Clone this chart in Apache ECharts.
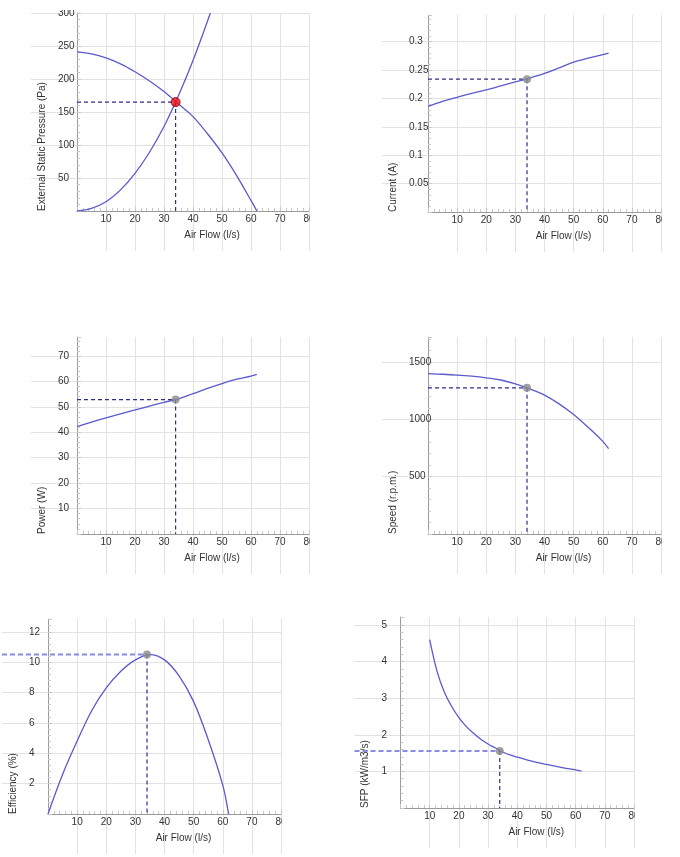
<!DOCTYPE html>
<html>
<head>
<meta charset="utf-8">
<title>Fan performance curves</title>
<script src="https://cdn.jsdelivr.net/npm/echarts@6/dist/echarts.min.js"></script>
<style>
  html, body { margin: 0; padding: 0; background: #fff; }
  body { position: relative; width: 680px; height: 857px; overflow: hidden; }
  .panel { position: absolute; }
</style>
</head>
<body>
<div id="pressure" class="panel" style="left:0;top:10px;width:310px;height:250px"></div>
<div id="current" class="panel" style="left:340px;top:0;width:322px;height:260px"></div>
<div id="power" class="panel" style="left:0;top:320px;width:310px;height:260px"></div>
<div id="speed" class="panel" style="left:340px;top:320px;width:322px;height:260px"></div>
<div id="efficiency" class="panel" style="left:0;top:600px;width:282px;height:257px"></div>
<div id="sfp" class="panel" style="left:340px;top:600px;width:295px;height:257px"></div>
<script>
// air flow (l/s) where the fan curves were read
const flow = [0, 5, 10, 15, 20, 25, 30, 35, 40, 45, 50, 55, 60, 62];
const fanPressure = [241, 238, 232, 223, 211, 197, 181, 162, 143, 117, 88, 54, 16, 0];
const current = [0.186, 0.195, 0.202, 0.209, 0.215, 0.222, 0.229, 0.236, 0.244, 0.254, 0.264, 0.271, 0.277, 0.280];
const power = [42.2, 44.0, 45.7, 47.3, 48.8, 50.3, 51.8, 53.2, 55.2, 57.3, 59.2, 60.9, 62.1, 62.8];
const speed = [1398, 1393, 1386, 1376, 1362, 1343, 1310, 1265, 1211, 1135, 1042, 930, 808, 745];
const efficiency = [0, 2.6, 4.8, 6.8, 8.3, 9.4, 10.15, 10.5, 10.15, 9.1, 7.4, 4.9, 1.9, 0];

// system curve
const systemFlow = [0, 5, 10, 15, 20, 25, 30, 35, 40, 46];
const systemPressure = [0, 4, 14, 32, 57, 89, 128, 175, 228, 300];

// specific fan power
const sfpFlow = [10, 12.5, 15, 17.5, 20, 22.5, 25, 27.5, 30, 32.5, 35, 37.5, 40, 45, 50, 55, 60, 62];
const sfp = [4.6, 3.74, 3.17, 2.78, 2.47, 2.23, 2.04, 1.88, 1.75, 1.64, 1.53, 1.45, 1.39, 1.28, 1.19, 1.11, 1.04, 1.01];

// duty point
const dutyFlow = 34;
const dutyPressure = 165;
const dutyCurrent = 0.234;
const dutyPower = 52.9;
const dutySpeed = 1275;
const dutyEfficiency = 10.5;
const dutySfp = 1.56;

const FONT = '"Liberation Sans", Arial, sans-serif';
const GRID = '#e2e2e2';
const AXIS = '#9a9a9a';
const TICK = '#c8c8c8';
const CURVE = '#5a5acd';
const DARK_DASH = '#2e2e8e';
const LIGHT_DASH = '#8a8ae6';
const OVERHANG = 46; // grid lines reach this far left of the y axis

const zip = (xs, ys) => xs.map((x, i) => [x, ys[i]]);
const txt = { fontFamily: FONT, fontSize: 10, color: '#333' };

function buildOption(p, width) {
  // flow value at the left end of the overhanging grid (same scale as the plot)
  const plotWidth = width - p.left - p.right;
  const edgeFlow = -OVERHANG * 80 / plotWidth;

  const curves = p.curves.map(data => ({
    type: 'line', xAxisIndex: 2, yAxisIndex: 2, data, smooth: 0.35,
    showSymbol: false, silent: true, z: 3,
    lineStyle: { color: CURVE, width: 1.3 }
  }));
  const light = p.lightDash;
  return {
    animation: false,
    grid: [
      // vertical grid lines run on below the axis
      { left: p.left, right: p.right, top: p.top, bottom: p.bottom - 40, outerBoundsMode: 'none' },
      // horizontal grid lines run on left of the axis
      { left: p.left - OVERHANG, right: p.right, top: p.top, bottom: p.bottom, outerBoundsMode: 'none' },
      { left: p.left, right: p.right, top: p.top, bottom: p.bottom, outerBoundsMode: 'none' }
    ],
    xAxis: [
      {
        gridIndex: 0, type: 'value', min: 0, max: 80, interval: 10,
        axisLine: { show: false }, axisTick: { show: false }, axisLabel: { show: false },
        splitLine: { show: true, showMinLine: false, lineStyle: { color: GRID } }
      },
      { gridIndex: 1, type: 'value', min: edgeFlow, max: 80, show: false },
      {
        gridIndex: 2, type: 'value', min: 0, max: 80, interval: 10,
        name: 'Air Flow (l/s)', nameLocation: 'middle', nameGap: 19,
        nameTextStyle: Object.assign({}, txt, { padding: [0, 0, 0, 38] }),
        axisLine: { lineStyle: { color: AXIS } },
        axisTick: { inside: true, length: 4, lineStyle: { color: TICK } },
        minorTick: { show: true, splitNumber: 5, length: 3, lineStyle: { color: TICK } },
        axisLabel: Object.assign({}, txt, { margin: 3, showMinLabel: false }),
        splitLine: { show: false }
      }
    ],
    yAxis: [
      { gridIndex: 0, type: 'value', min: 0, max: p.yMax, show: false },
      {
        gridIndex: 1, type: 'value', min: 0, max: p.yMax, interval: p.yStep,
        axisLine: { show: false }, axisTick: { show: false }, axisLabel: { show: false },
        splitLine: { show: true, showMinLine: false, showMaxLine: p.topLine, lineStyle: { color: GRID } }
      },
      {
        gridIndex: 2, type: 'value', min: 0, max: p.yMax, interval: p.yStep,
        name: p.yName, nameLocation: 'start', nameGap: 0, nameRotate: 90, nameMoveOverlap: false,
        nameTextStyle: Object.assign({}, txt, { align: 'left', verticalAlign: 'bottom', padding: [0, 0, 30, 0] }),
        axisLine: { lineStyle: { color: AXIS } },
        axisTick: { inside: true, length: 4, lineStyle: { color: TICK } },
        minorTick: { show: true, splitNumber: 5, length: 3, lineStyle: { color: TICK } },
        axisLabel: Object.assign({}, txt, {
          margin: 19, align: 'left', showMinLabel: false, showMaxLabel: p.topLine,
          formatter: v => String(+v.toFixed(4))
        }),
        splitLine: { show: false }
      }
    ],
    series: curves.concat([
      // horizontal guide; the light ones run out past the y axis like the grid
      light ? {
        type: 'line', xAxisIndex: 1, yAxisIndex: 1, silent: true, showSymbol: false, z: 2,
        data: [[edgeFlow, p.dutyY], [dutyFlow, p.dutyY]],
        lineStyle: { color: LIGHT_DASH, width: 2, type: [5, 3] }
      } : {
        type: 'line', xAxisIndex: 2, yAxisIndex: 2, silent: true, showSymbol: false, z: 2,
        data: [[0, p.dutyY], [dutyFlow, p.dutyY]],
        lineStyle: { color: DARK_DASH, width: 1.2, type: [4, 3] }
      },
      {
        type: 'line', xAxisIndex: 2, yAxisIndex: 2, silent: true, showSymbol: false, z: 2,
        data: [[dutyFlow, p.dutyY], [dutyFlow, 0]],
        lineStyle: { color: DARK_DASH, width: 1.2, type: [4, 3] }
      },
      {
        type: 'scatter', xAxisIndex: 2, yAxisIndex: 2, silent: true, z: 5,
        data: [[dutyFlow, p.dutyY]],
        symbolSize: p.red ? 9 : 8,
        itemStyle: p.red
          ? { color: '#ee1111', borderColor: '#8a0000', borderWidth: 1 }
          : { color: '#8a8a8a' }
      }
    ])
  };
}

const panels = [
  { id: 'pressure', left: 77, right: 1, top: 3, bottom: 49, yMax: 300, yStep: 50, topLine: true,
    yName: 'External Static Pressure (Pa)', dutyY: dutyPressure, red: true,
    curves: [zip(flow, fanPressure), zip(systemFlow, systemPressure)] },
  { id: 'current', left: 88, right: 1, top: 15, bottom: 48, yMax: 0.347, yStep: 0.05, topLine: false,
    yName: 'Current (A)', dutyY: dutyCurrent, curves: [zip(flow, current)] },
  { id: 'power', left: 77, right: 1, top: 17, bottom: 46, yMax: 77.5, yStep: 10, topLine: false,
    yName: 'Power (W)', dutyY: dutyPower, curves: [zip(flow, power)] },
  { id: 'speed', left: 88, right: 1, top: 17, bottom: 46, yMax: 1718, yStep: 500, topLine: false,
    yName: 'Speed (r.p.m.)', dutyY: dutySpeed, curves: [zip(flow, speed)] },
  { id: 'efficiency', left: 48, right: 1, top: 19, bottom: 43, yMax: 12.84, yStep: 2, topLine: false,
    yName: 'Efficiency (%)', dutyY: dutyEfficiency, lightDash: true, curves: [zip(flow, efficiency)] },
  { id: 'sfp', left: 60.5, right: 1, top: 17, bottom: 49, yMax: 5.22, yStep: 1, topLine: false,
    yName: 'SFP (kW/m3/s)', dutyY: dutySfp, lightDash: true, curves: [zip(sfpFlow, sfp)] }
];

panels.forEach(p => {
  const el = document.getElementById(p.id);
  const chart = echarts.init(el, null, { renderer: 'canvas' });
  chart.setOption(buildOption(p, el.clientWidth));
});
</script>
</body>
</html>
